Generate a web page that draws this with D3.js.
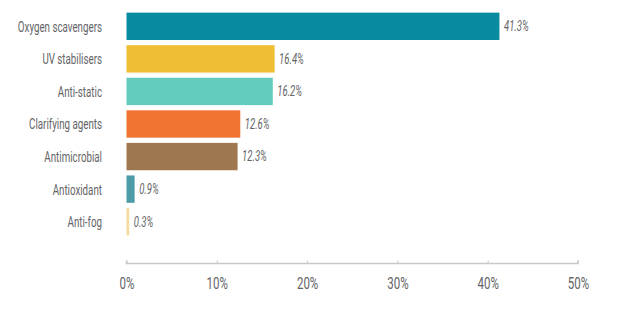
<!DOCTYPE html>
<html>
<head>
<meta charset="utf-8">
<script src="https://cdn.jsdelivr.net/npm/d3@7/dist/d3.min.js"></script>
<style>
  html, body { margin: 0; padding: 0; background: #fff; }
  svg { display: block; }
  text { font-family: Roboto, "Noto Sans", sans-serif; font-weight: 400; }
</style>
</head>
<body>
<script>
// Market share of active packaging additive types
const categories = ["Oxygen scavengers", "UV stabilisers", "Anti-static", "Clarifying agents", "Antimicrobial", "Antioxidant", "Anti-fog"];
const shares = [41.3, 16.4, 16.2, 12.6, 12.3, 0.9, 0.3];
const colors = ["#068ba1", "#f0be32", "#62cbbe", "#f07332", "#9e7650", "#4e9ba8", "#f3dc9c"];
const tickValues = [0, 10, 20, 30, 40, 50];

const W = 624, H = 333;
// narrow look for all labels: horizontal squeeze factors
const catSqueeze = 0.63, valSqueeze = 0.68, tickSqueeze = 0.72;

const svg = d3.select("body").append("svg").attr("width", W).attr("height", H);

const x = d3.scaleLinear().domain([0, 50]).range([126.5, 578]);
const y = d3.scaleBand().domain(categories).range([11, 237]).paddingInner(0.16).paddingOuter(0.05);

// bars
svg.append("g").selectAll("rect")
  .data(categories)
  .join("rect")
  .attr("x", x(0))
  .attr("y", d => y(d))
  .attr("width", (d, i) => x(shares[i]) - x(0))
  .attr("height", y.bandwidth())
  .attr("fill", (d, i) => colors[i]);

// category labels
svg.append("g").selectAll("g")
  .data(categories)
  .join("g")
  .attr("transform", d => `translate(102,${y(d) + y.bandwidth() / 2}) scale(${catSqueeze},1)`)
  .append("text")
  .attr("dy", "0.35em")
  .attr("text-anchor", "end")
  .attr("font-size", 15.5)
  .attr("fill", "#636466")
  .text(d => d);

// value labels
svg.append("g").selectAll("g")
  .data(categories)
  .join("g")
  .attr("transform", (d, i) => `translate(${x(shares[i]) + 4.5},${y(d) + y.bandwidth() / 2}) scale(${valSqueeze},1)`)
  .append("text")
  .attr("dy", "0.35em")
  .attr("font-size", 14)
  .attr("font-style", "italic")
  .attr("fill", "#636466")
  .text((d, i) => shares[i].toFixed(1) + "%");

// x axis
const axis = d3.axisTop(x).tickValues(tickValues).tickSize(3).tickFormat(d => d + "%");
const gx = svg.append("g").attr("transform", "translate(0,263.5)").call(axis);
gx.select(".domain").attr("stroke", "#c8c8c8").attr("stroke-width", 1.5).attr("d", `M${x(0)},-3V0H${x(50)}V-3`);
gx.selectAll(".tick line").attr("stroke", "#c8c8c8").attr("stroke-width", 1);
gx.selectAll(".tick text")
  .attr("y", 0)
  .attr("dy", "0.35em")
  .attr("transform", `translate(0,20) scale(${tickSqueeze},1)`)
  .attr("font-size", 16)
  .attr("font-family", "Roboto, sans-serif")
  .attr("font-weight", 400)
  .attr("fill", "#636466");
</script>
</body>
</html>
